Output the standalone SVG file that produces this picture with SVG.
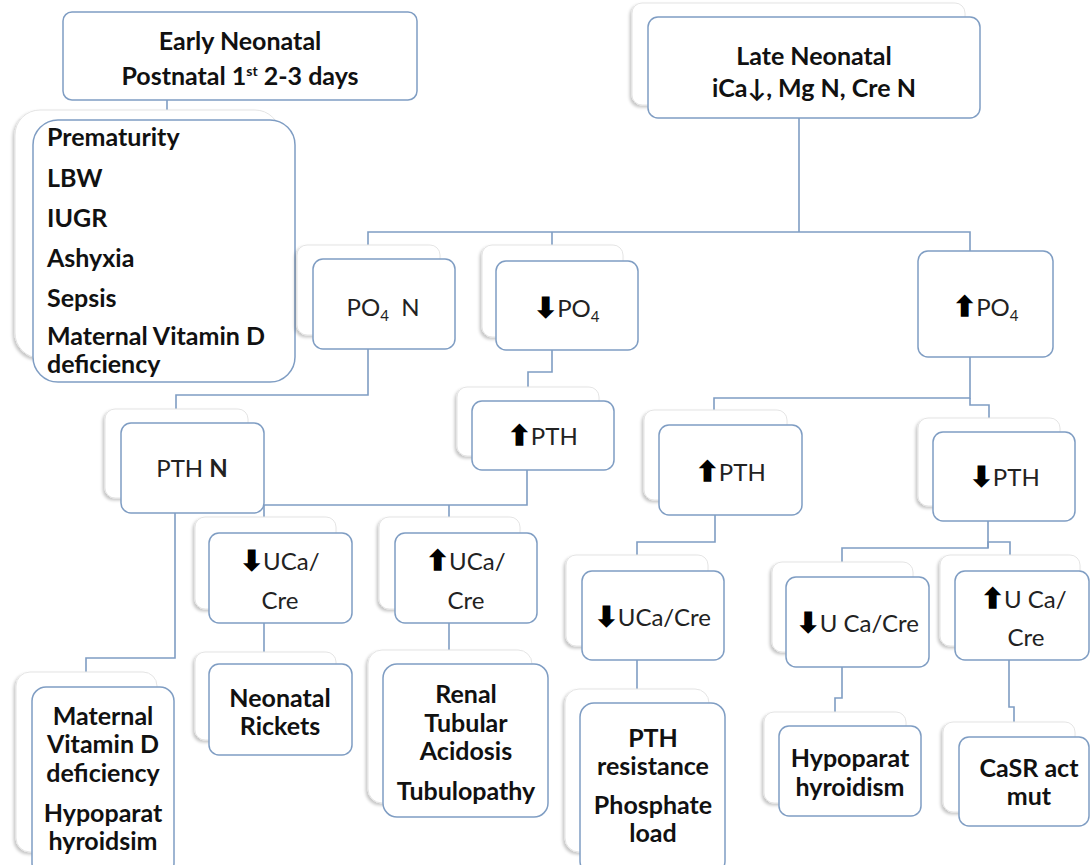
<svg xmlns="http://www.w3.org/2000/svg" width="1092" height="865" viewBox="0 0 1092 865">
<defs>
<filter id="sh" x="-10%" y="-10%" width="120%" height="120%">
<feDropShadow dx="-2" dy="2" stdDeviation="1.5" flood-color="#000" flood-opacity="0.22"/>
</filter>
<style>
.box{fill:#fff;stroke:#7f9dc3;stroke-width:1.5}
.back{fill:#fff;stroke:#e4e4e4;stroke-width:1;filter:url(#sh)}
.conn{fill:none;stroke:#7f9dc3;stroke-width:1.6}
.b{font-family:Lato,"Liberation Sans",sans-serif;font-weight:bold;font-size:25px;fill:#111}
.r{font-family:Lato,"Liberation Sans",sans-serif;font-size:24px;fill:#222}
.c{text-anchor:middle}
.arr{font-family:"DejaVu Sans",sans-serif;font-size:27px;fill:#000;stroke:#000;stroke-width:1.6}
</style>
</defs>
<rect width="1092" height="865" fill="#fff"/>
<g id="connectors">
<path class="conn" d="M167,100 V120"/>
<path class="conn" d="M799,105 V232"/>
<path class="conn" d="M368,245 V232 H970 V251"/>
<path class="conn" d="M552,232 V245"/>
<path class="conn" d="M368,349 V395 H176 V409"/>
<path class="conn" d="M552,350 V372 H528 V387"/>
<path class="conn" d="M970,357 V398 H714 V410"/>
<path class="conn" d="M970,398 V405 H989 V418"/>
<path class="conn" d="M527,470 V505 H264 V517"/>
<path class="conn" d="M449,505 V517"/>
<path class="conn" d="M175,513 V658 H86 V672"/>
<path class="conn" d="M715,515 V542 H637 V555"/>
<path class="conn" d="M988,521 V548 H842 V562"/>
<path class="conn" d="M988,548 V542 H1010 V555"/>
<path class="conn" d="M264,623 V652"/>
<path class="conn" d="M449,623 V650"/>
<path class="conn" d="M637,660 V689"/>
<path class="conn" d="M842,667 V698 H835 V712"/>
<path class="conn" d="M1009,660 V707 H1014 V722"/>
</g>
<g id="early">
<rect class="box" x="63" y="12" width="354" height="88" rx="9"/>
<text class="b c" x="240" y="50">Early Neonatal</text>
<text class="b c" x="240" y="85">Postnatal 1<tspan font-size="14" dy="-9">st</tspan><tspan dy="9"> 2-3 days</tspan></text>
</g>
<g id="late">
<rect class="back" x="632" y="3" width="333" height="102" rx="10"/>
<rect class="box" x="648" y="17" width="332" height="101" rx="10"/>
<text class="b c" x="814" y="65">Late Neonatal</text>
<text class="b c" x="814" y="97">iCa↓, Mg N, Cre N</text>
</g>
<g id="causes">
<rect class="back" x="15" y="110" width="265" height="248" rx="25"/>
<rect class="box" x="33" y="120" width="262" height="262" rx="25"/>
<text class="b" x="47" y="146">Prematurity</text>
<text class="b" x="47" y="187">LBW</text>
<text class="b" x="47" y="227">IUGR</text>
<text class="b" x="47" y="267">Ashyxia</text>
<text class="b" x="47" y="307">Sepsis</text>
<text class="b" x="47" y="345">Maternal Vitamin D</text>
<text class="b" x="47" y="373">deficiency</text>
</g>
<g id="po4-normal">
<rect class="back" x="297" y="245" width="143" height="90" rx="10"/>
<rect class="box" x="313" y="259" width="142" height="90" rx="10"/>
<text class="r c" x="383" y="316">PO<tspan font-size="15" dy="5">4</tspan><tspan dy="-5">&#160; N</tspan></text>
</g>
<g id="po4-low">
<rect class="back" x="482" y="245" width="141" height="92" rx="10"/>
<rect class="box" x="496" y="261" width="142" height="89" rx="10"/>
<text class="r c" x="567" y="317"><tspan class="arr">⬇</tspan>PO<tspan font-size="15" dy="5">4</tspan></text>
</g>
<g id="po4-high">
<rect class="box" x="918" y="251" width="135" height="106" rx="10"/>
<text class="r c" x="986" y="316"><tspan class="arr">⬆</tspan>PO<tspan font-size="15" dy="5">4</tspan></text>
</g>
<g id="pth-normal">
<rect class="back" x="105" y="409" width="143" height="89" rx="10"/>
<rect class="box" x="121" y="423" width="143" height="90" rx="10"/>
<text class="r c" x="192" y="477">PTH <tspan font-weight="bold">N</tspan></text>
</g>
<g id="pth-high-1">
<rect class="back" x="457" y="387" width="142" height="69" rx="10"/>
<rect class="box" x="472" y="401" width="142" height="69" rx="10"/>
<text class="r c" x="543" y="445"><tspan class="arr">⬆</tspan>PTH</text>
</g>
<g id="pth-high-2">
<rect class="back" x="644" y="410" width="143" height="90" rx="10"/>
<rect class="box" x="659" y="425" width="143" height="90" rx="10"/>
<text class="r c" x="731" y="481"><tspan class="arr">⬆</tspan>PTH</text>
</g>
<g id="pth-low">
<rect class="back" x="918" y="418" width="142" height="88" rx="10"/>
<rect class="box" x="933" y="432" width="142" height="89" rx="10"/>
<text class="r c" x="1005" y="486"><tspan class="arr">⬇</tspan>PTH</text>
</g>
<g id="uca-low-1">
<rect class="back" x="195" y="517" width="141" height="92" rx="10"/>
<rect class="box" x="209" y="533" width="143" height="90" rx="10"/>
<text class="r c" x="280" y="570"><tspan class="arr">⬇</tspan>UCa/</text>
<text class="r c" x="280" y="609">Cre</text>
</g>
<g id="uca-high-1">
<rect class="back" x="379" y="517" width="141" height="92" rx="10"/>
<rect class="box" x="395" y="533" width="142" height="90" rx="10"/>
<text class="r c" x="466" y="570"><tspan class="arr">⬆</tspan>UCa/</text>
<text class="r c" x="466" y="609">Cre</text>
</g>
<g id="uca-low-2">
<rect class="back" x="566" y="555" width="142" height="91" rx="10"/>
<rect class="box" x="582" y="571" width="142" height="89" rx="10"/>
<text class="r c" x="653" y="626"><tspan class="arr">⬇</tspan>UCa/Cre</text>
</g>
<g id="uca-low-3">
<rect class="back" x="772" y="562" width="141" height="90" rx="10"/>
<rect class="box" x="786" y="577" width="143" height="90" rx="10"/>
<text class="r c" x="858" y="632"><tspan class="arr">⬇</tspan>U Ca/Cre</text>
</g>
<g id="uca-high-2">
<rect class="back" x="940" y="555" width="140" height="91" rx="10"/>
<rect class="box" x="955" y="571" width="134" height="89" rx="10"/>
<text class="r c" x="1024" y="608"><tspan class="arr">⬆</tspan>U Ca/</text>
<text class="r c" x="1026" y="646">Cre</text>
</g>
<g id="rickets">
<rect class="back" x="195" y="652" width="141" height="88" rx="10"/>
<rect class="box" x="209" y="664" width="143" height="91" rx="10"/>
<text class="b c" x="280" y="707">Neonatal</text>
<text class="b c" x="280" y="735">Rickets</text>
</g>
<g id="renal">
<rect class="back" x="368" y="650" width="164" height="153" rx="14"/>
<rect class="box" x="383" y="664" width="165" height="153" rx="14"/>
<text class="b c" x="466" y="703">Renal</text>
<text class="b c" x="466" y="732">Tubular</text>
<text class="b c" x="466" y="760">Acidosis</text>
<text class="b c" x="466" y="800">Tubulopathy</text>
</g>
<g id="maternal">
<rect class="back" x="16" y="672" width="141" height="180" rx="14"/>
<rect class="box" x="32" y="687" width="142" height="190" rx="14"/>
<text class="b c" x="103" y="725">Maternal</text>
<text class="b c" x="103" y="753">Vitamin D</text>
<text class="b c" x="103" y="782">deficiency</text>
<text class="b c" x="103" y="822">Hypoparat</text>
<text class="b c" x="103" y="850">hyroidsim</text>
</g>
<g id="pth-resistance">
<rect class="back" x="565" y="689" width="144" height="163" rx="14"/>
<rect class="box" x="580" y="703" width="145" height="172" rx="14"/>
<text class="b c" x="653" y="747">PTH</text>
<text class="b c" x="653" y="775">resistance</text>
<text class="b c" x="653" y="814">Phosphate</text>
<text class="b c" x="653" y="842">load</text>
</g>
<g id="hypoparathyroidism">
<rect class="back" x="764" y="712" width="142" height="91" rx="10"/>
<rect class="box" x="779" y="726" width="142" height="90" rx="10"/>
<text class="b c" x="850" y="767" font-size="24">Hypoparat</text>
<text class="b c" x="850" y="796" font-size="24">hyroidism</text>
</g>
<g id="casr">
<rect class="back" x="943" y="722" width="132" height="90" rx="10"/>
<rect class="box" x="959" y="737" width="130" height="89" rx="10"/>
<text class="b c" x="1029" y="777">CaSR act</text>
<text class="b c" x="1029" y="805">mut</text>
</g>
</svg>
